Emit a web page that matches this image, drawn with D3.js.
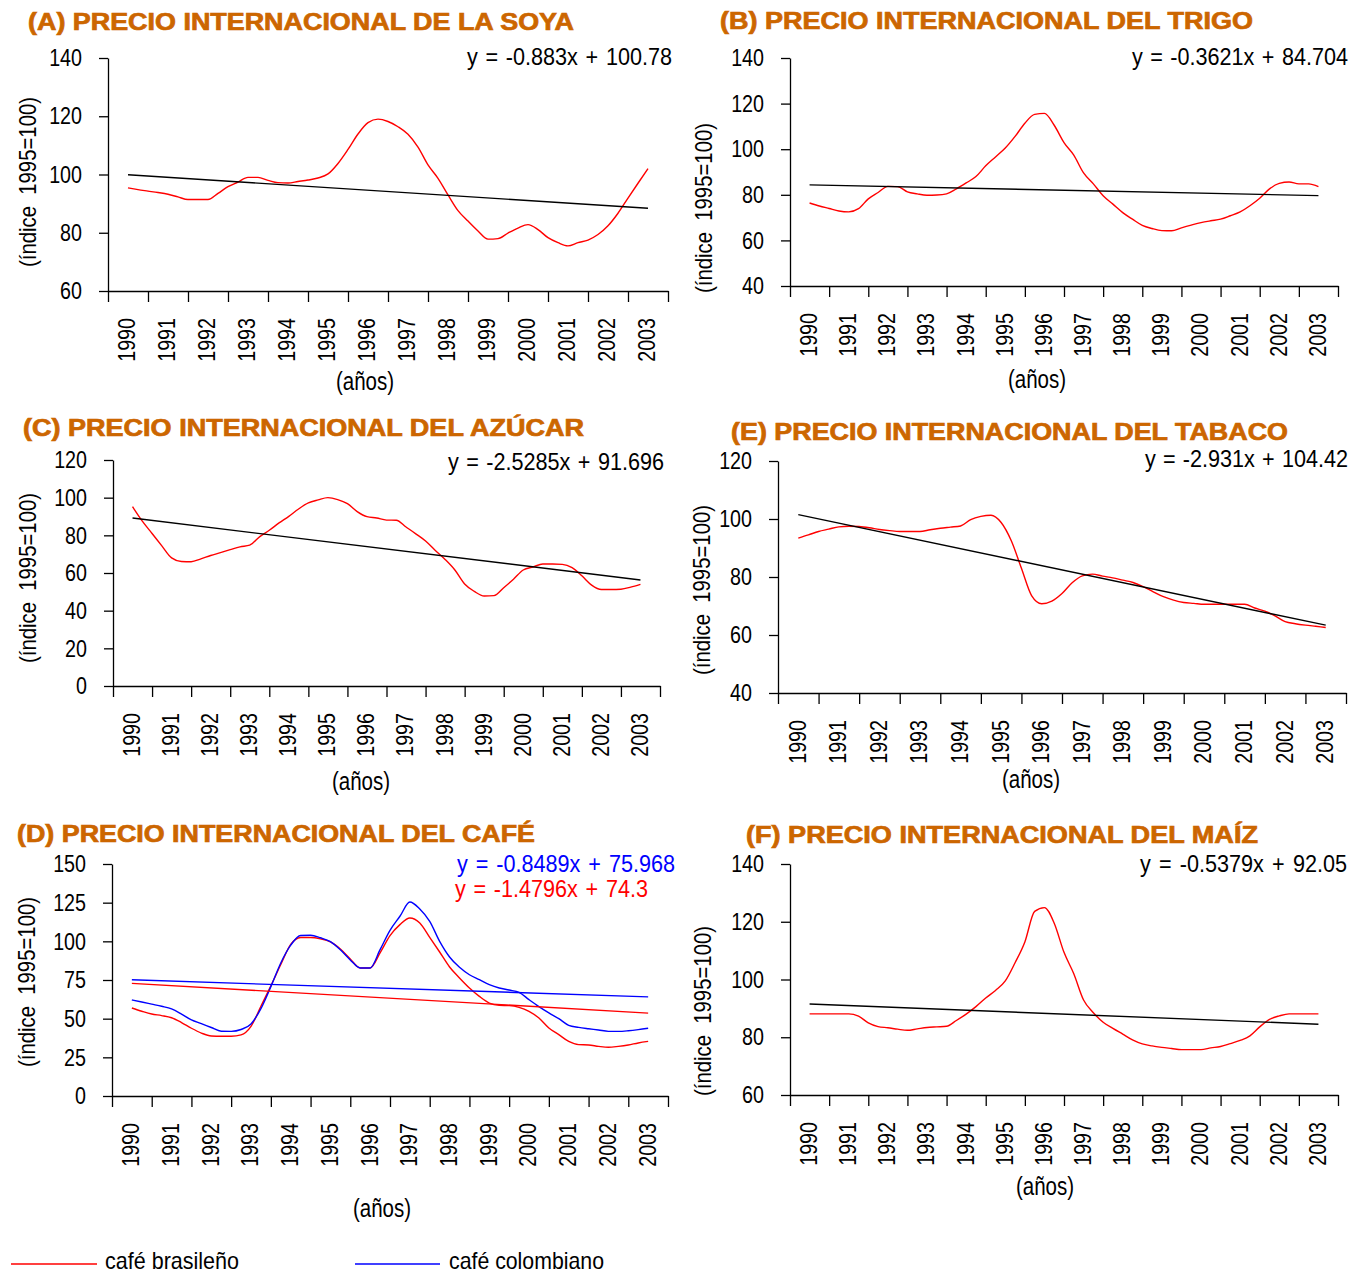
<!DOCTYPE html>
<html>
<head>
<meta charset="utf-8">
<script src="https://cdn.jsdelivr.net/npm/d3@7"></script>
<style>
  body { margin: 0; background: #fff; }
  text { font-family: "Liberation Sans", Arial, sans-serif; }
  .title { font-weight: bold; }
</style>
</head>
<body>
<svg id="chart" width="1353" height="1273"></svg>
<script>
// year categories on the x axis
var years = ["1990","1991","1992","1993","1994","1995","1996","1997","1998","1999","2000","2001","2002","2003"];

// quarterly index values (1995=100), 1990 .. 2003
var soya = [95.4,94.8,94.3,93.8,93.2,92.3,91.4,91.4,91.4,93.5,95.8,97.4,99.0,99.0,98.0,97.2,97.1,97.6,98.1,98.8,
  100.2,103.8,108.6,113.9,117.8,119.0,118.2,116.4,113.8,109.4,103.3,98.7,93.0,87.6,84.0,80.6,77.8,78.0,79.9,81.6,
  82.8,81.1,78.3,76.6,75.5,76.6,77.5,79.4,82.4,86.7,91.9,97.0,102.0];
var trigo = [76.4,75.1,74.0,72.9,72.5,73.9,78.2,81.0,83.7,83.6,81.3,80.4,79.8,79.9,80.4,82.6,85.2,88.0,92.7,96.6,
  100.5,105.6,111.4,115.3,115.7,110.5,102.9,97.4,89.6,84.8,79.6,75.9,72.2,69.3,66.6,65.2,64.3,64.2,65.5,66.7,
  67.8,68.6,69.3,70.8,72.5,75.2,78.5,82.6,85.0,85.6,84.8,84.8,83.6];
var azucar = [95.2,87.5,81.0,74.4,68.0,66.1,66.0,67.5,69.3,70.8,72.4,73.9,74.8,79.2,82.7,86.6,90.1,94.0,97.2,98.8,
  100.0,99.0,96.8,92.6,89.9,89.2,88.1,88.0,84.4,80.8,77.0,72.0,67.2,61.6,54.2,50.2,47.8,48.0,52.2,56.7,
  61.6,63.2,64.8,64.8,64.6,62.8,58.5,53.6,51.2,51.2,51.4,52.5,54.0];
var tabaco = [93.4,94.5,95.7,96.5,97.3,97.5,97.4,97.0,96.4,96.0,95.7,95.7,95.7,96.3,96.8,97.2,97.6,99.8,100.9,101.3,
  98.8,92.5,83.0,73.6,70.8,71.7,74.3,78.0,80.4,81.0,80.3,79.7,78.9,78.1,76.7,74.9,73.2,72.0,71.2,70.9,
  70.6,70.6,70.6,70.6,70.6,69.3,68.2,66.6,64.6,63.9,63.4,63.0,62.6];
var cafeBrasil = [56.9,54.8,53.0,52.0,50.6,47.5,43.8,40.7,38.8,38.6,38.6,39.5,45.0,58.0,71.2,85.0,98.0,102.5,102.5,101.6,
  99.6,95.0,88.6,82.8,82.8,92.5,103.7,110.8,115.1,111.9,102.6,93.1,83.4,76.3,69.8,64.4,60.1,58.6,58.4,57.3,
  54.7,50.4,44.0,39.7,35.3,33.2,33.0,32.1,31.5,32.1,33.0,34.3,35.3];
var cafeColombia = [62.1,60.8,59.4,58.0,56.3,53.0,49.2,46.8,44.3,41.9,41.8,43.0,46.6,56.5,70.7,86.0,97.5,103.8,103.9,102.3,
  99.8,94.5,88.0,82.8,82.8,94.6,107.1,116.2,125.4,120.9,112.9,100.0,89.9,83.2,78.4,75.2,72.0,69.8,68.5,67.0,
  62.3,57.8,53.7,50.0,45.7,44.4,43.5,42.7,41.8,41.8,42.2,42.9,43.8];
var maiz = [88.1,88.1,88.1,88.1,88.1,87.3,85.0,83.7,83.3,82.8,82.4,82.9,83.4,83.6,83.8,85.8,88.0,90.6,93.6,96.2,
  99.5,105.8,113.0,123.6,124.9,119.5,109.4,102.0,92.9,88.5,85.2,83.1,81.1,79.1,77.7,77.0,76.5,76.1,75.7,75.7,
  75.7,76.3,76.8,77.8,78.9,80.5,83.6,86.2,87.4,88.1,88.1,88.1,88.1];

// linear trends [slope, intercept], x = 1 .. 14
var soyaTrend = [-0.883, 100.78];
var trigoTrend = [-0.3621, 84.704];
var azucarTrend = [-2.5285, 91.696];
var tabacoTrend = [-2.931, 104.42];
var cafeBrasilTrend = [-1.4796, 74.3];
var cafeColombiaTrend = [-0.8489, 75.968];
var maizTrend = [-0.5379, 92.05];

// y axis ticks
var ticksSoya = [60, 80, 100, 120, 140];
var ticksTrigo = [40, 60, 80, 100, 120, 140];
var ticksAzucar = [0, 20, 40, 60, 80, 100, 120];
var ticksTabaco = [40, 60, 80, 100, 120];
var ticksCafe = [0, 25, 50, 75, 100, 125, 150];
var ticksMaiz = [60, 80, 100, 120, 140];

var orange = "#cc6600";
var NARROW = 0.82;   // Arial Narrow is about 82% as wide as Arial
var EQ_NARROW = 0.9; // the trend equations look a bit wider

// panel layout
var panels = [
  {title: "(A) PRECIO INTERNACIONAL DE LA SOYA", tx: 28, ty: 30, tw: 546,
   left: 108, right: 668, top: 58, bottom: 291, ticks: ticksSoya,
   series: [{values: soya, trend: soyaTrend, color: "#ff0000", trendColor: "#000", eqColor: "#000", eqX: 672, eqY: 65, eqW: 205}],
   ytX: 28, ytY: 182, axX: 365, axY: 390},
  {title: "(B) PRECIO INTERNACIONAL DEL TRIGO", tx: 720, ty: 29, tw: 533,
   left: 790, right: 1338, top: 58, bottom: 286, ticks: ticksTrigo,
   series: [{values: trigo, trend: trigoTrend, color: "#ff0000", trendColor: "#000", eqColor: "#000", eqX: 1348, eqY: 65, eqW: 216}],
   ytX: 704, ytY: 208, axX: 1037, axY: 388},
  {title: "(C) PRECIO INTERNACIONAL DEL AZÚCAR", tx: 23, ty: 436, tw: 561,
   left: 113, right: 660, top: 460, bottom: 686, ticks: ticksAzucar,
   series: [{values: azucar, trend: azucarTrend, color: "#ff0000", trendColor: "#000", eqColor: "#000", eqX: 664, eqY: 470, eqW: 216}],
   ytX: 28, ytY: 578, axX: 361, axY: 790},
  {title: "(E) PRECIO INTERNACIONAL DEL TABACO", tx: 731, ty: 440, tw: 557,
   left: 778, right: 1346, top: 461, bottom: 693, ticks: ticksTabaco,
   series: [{values: tabaco, trend: tabacoTrend, color: "#ff0000", trendColor: "#000", eqColor: "#000", eqX: 1348, eqY: 467, eqW: 203}],
   ytX: 702, ytY: 590, axX: 1031, axY: 788},
  {title: "(D) PRECIO INTERNACIONAL DEL CAFÉ", tx: 17, ty: 842, tw: 518,
   left: 112, right: 668, top: 864, bottom: 1096, ticks: ticksCafe,
   series: [
     {values: cafeBrasil, trend: cafeBrasilTrend, color: "#ff0000", trendColor: "#ff0000", eqColor: "#ff0000", eqX: 648, eqY: 897, eqW: 193},
     {values: cafeColombia, trend: cafeColombiaTrend, color: "#0000ff", trendColor: "#0000ff", eqColor: "#0000ff", eqX: 675, eqY: 872, eqW: 218}],
   ytX: 27, ytY: 982, axX: 382, axY: 1217},
  {title: "(F) PRECIO INTERNACIONAL DEL MAÍZ", tx: 746, ty: 843, tw: 512,
   left: 790, right: 1338, top: 864, bottom: 1095, ticks: ticksMaiz,
   series: [{values: maiz, trend: maizTrend, color: "#ff0000", trendColor: "#000", eqColor: "#000", eqX: 1347, eqY: 872, eqW: 207}],
   ytX: 703, ytY: 1011, axX: 1045, axY: 1195}
];

var svg = d3.select("#chart");
svg.append("rect").attr("width", 1353).attr("height", 1273).attr("fill", "#fff");

// squeeze Liberation Sans to the width of a narrow face
function narrow(sel) {
  sel.each(function() {
    var len = this.getComputedTextLength();
    d3.select(this).attr("textLength", len * NARROW).attr("lengthAdjust", "spacingAndGlyphs");
  });
}

// narrowish glyphs, wider gaps between the words, to a given total width
function equation(sel, width) {
  sel.each(function() {
    var t = d3.select(this);
    var len = this.getComputedTextLength();
    var gaps = t.text().split(" ").length - 1;
    var ws = Math.max(0, (width / EQ_NARROW - len) / gaps);
    t.style("word-spacing", ws + "px")
      .attr("textLength", width).attr("lengthAdjust", "spacingAndGlyphs");
  });
}

function drawPanel(p) {
  var g = svg.append("g");
  var x = d3.scaleLinear().domain([0.5, 14.5]).range([p.left, p.right]);
  var y = d3.scaleLinear().domain(d3.extent(p.ticks)).range([p.bottom, p.top]);

  // title
  g.append("text").attr("class", "title")
    .attr("x", p.tx).attr("y", p.ty)
    .attr("textLength", p.tw).attr("lengthAdjust", "spacingAndGlyphs")
    .style("font-size", "23px").attr("fill", orange)
    .attr("stroke", orange).attr("stroke-width", 0.7)
    .text(p.title);

  // y axis
  var ya = g.append("g").attr("transform", "translate(" + p.left + ",0)")
    .call(d3.axisLeft(y).tickValues(p.ticks).tickSize(9).tickPadding(17).tickSizeOuter(0));
  ya.selectAll("text").style("font-size", "24px").attr("fill", "#000").call(narrow);

  // x axis with ticks between categories
  var bounds = d3.range(0.5, 15, 1);
  g.append("g").attr("transform", "translate(0," + p.bottom + ")")
    .call(d3.axisBottom(x).tickValues(bounds).tickSize(11).tickFormat("").tickSizeOuter(0));

  g.selectAll(".domain, .tick line").attr("stroke", "#000").attr("stroke-width", 1.3);

  // year labels
  g.selectAll(".year").data(years).enter().append("text")
    .attr("class", "year")
    .attr("transform", function(d, i) { return "translate(" + (x(i + 1) - 1) + "," + (p.bottom + 27) + ") rotate(-90)"; })
    .attr("dy", "0.35em").attr("text-anchor", "end")
    .style("font-size", "24px")
    .text(function(d) { return d; })
    .call(narrow);

  // axis titles
  g.append("text")
    .attr("transform", "translate(" + p.ytX + "," + p.ytY + ") rotate(-90)")
    .attr("dy", "0.35em").attr("text-anchor", "middle")
    .style("font-size", "24px").style("white-space", "pre")
    .attr("textLength", 170).attr("lengthAdjust", "spacingAndGlyphs")
    .text("(índice  1995=100)");
  g.append("text")
    .attr("x", p.axX).attr("y", p.axY).attr("text-anchor", "middle")
    .style("font-size", "25px")
    .text("(años)")
    .call(narrow);

  var line = d3.line()
    .x(function(d, i) { return x(1 + i / 4); })
    .y(function(d) { return y(d); })
    .curve(d3.curveMonotoneX);

  p.series.forEach(function(s) {
    g.append("path").datum(s.values)
      .attr("d", line).attr("fill", "none")
      .attr("stroke", s.color).attr("stroke-width", 1.4);
  });
  p.series.forEach(function(s) {
    g.append("line")
      .attr("x1", x(1)).attr("y1", y(s.trend[0] * 1 + s.trend[1]))
      .attr("x2", x(14)).attr("y2", y(s.trend[0] * 14 + s.trend[1]))
      .attr("stroke", s.trendColor).attr("stroke-width", 1.4);
    g.append("text")
      .attr("x", s.eqX).attr("y", s.eqY).attr("text-anchor", "end")
      .style("font-size", "24px")
      .attr("fill", s.eqColor)
      .text("y = " + s.trend[0] + "x + " + s.trend[1])
      .call(equation, s.eqW);
  });
}

panels.forEach(drawPanel);

// legend for the coffee panel
var legend = [
  {label: "café brasileño", color: "#ff0000", x1: 11, x2: 97, tx: 105, tw: 134},
  {label: "café colombiano", color: "#0000ff", x1: 355, x2: 440, tx: 449, tw: 155}
];
var lg = svg.append("g");
legend.forEach(function(l) {
  lg.append("line").attr("x1", l.x1).attr("x2", l.x2).attr("y1", 1264).attr("y2", 1264)
    .attr("stroke", l.color).attr("stroke-width", 1.4);
  lg.append("text").attr("x", l.tx).attr("y", 1269)
    .attr("textLength", l.tw).attr("lengthAdjust", "spacingAndGlyphs")
    .style("font-size", "24px").text(l.label);
});
</script>
</body>
</html>
